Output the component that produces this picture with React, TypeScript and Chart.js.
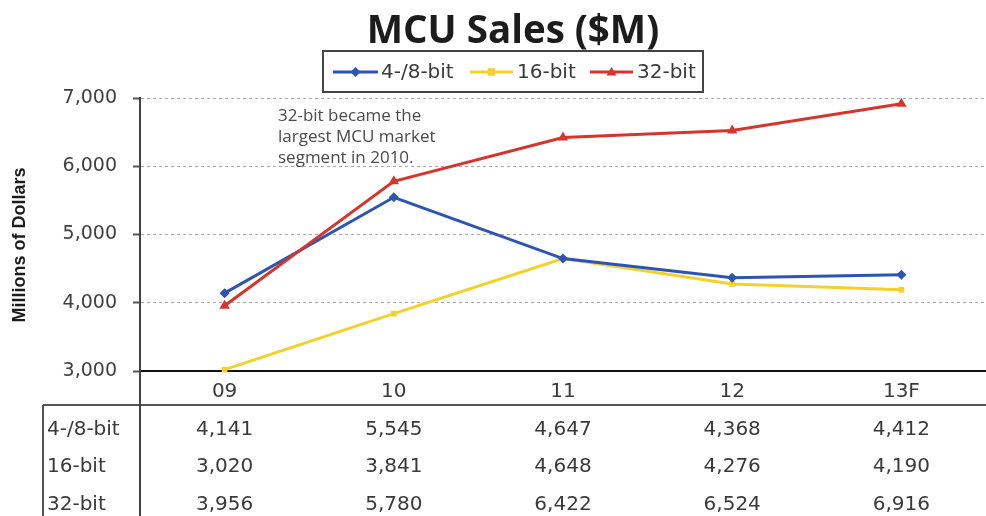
import React, { useEffect, useRef } from 'react';
import { Chart, registerables } from 'chart.js';

Chart.register(...registerables);

const categories = ['09', '10', '11', '12', '13F'];
const seriesNames = ['4-/8-bit', '16-bit', '32-bit'];
const bit4_8 = [4141, 5545, 4647, 4368, 4412];
const bit16 = [3020, 3841, 4648, 4276, 4190];
const bit32 = [3956, 5780, 6422, 6524, 6916];
const yTicks = [3000, 4000, 5000, 6000, 7000];
const titleText = 'MCU Sales ($M)';
const yTitleText = 'Millions of Dollars';
const annotationLines = ['32-bit became the', 'largest MCU market', 'segment in 2010.'];

const BLUE = '#2c55b3';
const YELLOW = '#f3d12b';
const RED = '#d6352c';
const seriesColors = [BLUE, YELLOW, RED];
const seriesStyles = ['rectRot', 'rect', 'triangle'];
const seriesValues = [bit4_8, bit16, bit32];

const fmt = (v: number) => v.toLocaleString('en-US');

function drawMarker(ctx: CanvasRenderingContext2D, style: string, x: number, y: number, r: number) {
  ctx.beginPath();
  if (style === 'rectRot') {
    ctx.moveTo(x, y - r);
    ctx.lineTo(x + r, y);
    ctx.lineTo(x, y + r);
    ctx.lineTo(x - r, y);
  } else if (style === 'rect') {
    ctx.rect(x - r * 0.75, y - r * 0.75, r * 1.5, r * 1.5);
  } else {
    ctx.moveTo(x, y - r);
    ctx.lineTo(x + r, y + r * 0.7);
    ctx.lineTo(x - r, y + r * 0.7);
  }
  ctx.closePath();
  ctx.fill();
}

const decor = {
  id: 'decor',
  afterDraw(chart: any) {
    const { ctx, chartArea, scales } = chart;
    const xs = scales.x;
    ctx.save();

    // Title
    ctx.fillStyle = '#1c1c1c';
    ctx.font = 'bold 38.5px "Open Sans"';
    ctx.textAlign = 'center';
    ctx.textBaseline = 'alphabetic';
    ctx.fillText(titleText, 513, 43);

    // Legend box
    ctx.strokeStyle = '#444';
    ctx.lineWidth = 2;
    ctx.strokeRect(323, 51, 380, 41);
    const legendItems = [
      { x0: 333, x1: 378, tx: 381 },
      { x0: 470, x1: 513, tx: 517 },
      { x0: 590, x1: 633, tx: 637 },
    ];
    ctx.font = '20px "DejaVu Sans"';
    ctx.textAlign = 'left';
    ctx.textBaseline = 'middle';
    legendItems.forEach((it, i) => {
      ctx.strokeStyle = seriesColors[i];
      ctx.fillStyle = seriesColors[i];
      ctx.lineWidth = 3;
      ctx.beginPath();
      ctx.moveTo(it.x0, 72);
      ctx.lineTo(it.x1, 72);
      ctx.stroke();
      drawMarker(ctx, seriesStyles[i], (it.x0 + it.x1) / 2, 72, 5);
      ctx.fillStyle = '#3a3a3a';
      ctx.fillText(seriesNames[i], it.tx, 73);
    });

    // Annotation
    ctx.fillStyle = '#4a4a4a';
    ctx.font = '17px "Open Sans"';
    ctx.textAlign = 'left';
    ctx.textBaseline = 'middle';
    annotationLines.forEach((l, i) => ctx.fillText(l, 278, 116 + i * 21));

    // Y-axis title
    ctx.save();
    ctx.translate(20, 245);
    ctx.rotate(-Math.PI / 2);
    ctx.fillStyle = '#1c1c1c';
    ctx.font = 'bold 18px "Liberation Sans"';
    ctx.textAlign = 'center';
    ctx.textBaseline = 'middle';
    ctx.fillText(yTitleText, 0, 0);
    ctx.restore();

    // Data table
    const tableTop = 405;
    const bottom = chart.height;
    ctx.strokeStyle = '#555';
    ctx.lineWidth = 2;
    ctx.beginPath();
    ctx.moveTo(43, tableTop);
    ctx.lineTo(chart.width, tableTop);
    ctx.moveTo(43, tableTop);
    ctx.lineTo(43, bottom);
    ctx.stroke();
    ctx.strokeStyle = '#444';
    ctx.beginPath();
    ctx.moveTo(chartArea.left, chartArea.bottom);
    ctx.lineTo(chartArea.left, bottom);
    ctx.stroke();

    const rowY = [430, 467, 505];
    ctx.font = '20px "DejaVu Sans"';
    ctx.fillStyle = '#3a3a3a';
    ctx.textBaseline = 'middle';
    seriesNames.forEach((name, r) => {
      ctx.textAlign = 'left';
      ctx.fillText(name, 47, rowY[r]);
      ctx.textAlign = 'center';
      seriesValues[r].forEach((v, c) => {
        ctx.fillText(fmt(v), xs.getPixelForValue(c), rowY[r]);
      });
    });

    ctx.restore();
  },
};

export default function App() {
  const ref = useRef<HTMLCanvasElement>(null);
  useEffect(() => {
    if (!ref.current) return;
    const chart = new Chart(ref.current, {
      type: 'line',
      data: {
        labels: categories,
        datasets: seriesNames.map((name, i) => ({
          label: name,
          data: seriesValues[i],
          borderColor: seriesColors[i],
          backgroundColor: seriesColors[i],
          borderWidth: 3,
          pointStyle: seriesStyles[i] as any,
          pointRadius: i === 1 ? 4 : i === 0 ? 5 : 6,
          pointBorderWidth: 0,
          tension: 0,
          clip: false as any,
          order: i === 2 ? 0 : i === 0 ? 1 : 2,
        })),
      },
      options: {
        responsive: false,
        animation: false,
        events: [],
        layout: { padding: { top: 98, left: 0, right: 0, bottom: 0 }, autoPadding: false },
        plugins: { legend: { display: false }, title: { display: false }, tooltip: { enabled: false } },
        scales: {
          x: {
            offset: true,
            grid: { display: false, drawTicks: false },
            border: { display: true, color: '#111', width: 2 },
            ticks: { font: { family: 'DejaVu Sans', size: 20 }, color: '#3a3a3a', padding: 9, maxRotation: 0 },
            afterFit: (s: any) => { s.height = 145; },
          },
          y: {
            min: 3000,
            max: 7000,
            afterBuildTicks: (s: any) => { s.ticks = yTicks.map((v) => ({ value: v })); },
            ticks: {
              font: { family: 'DejaVu Sans', size: 19 },
              color: '#404040',
              padding: 16,
              callback: (v: any) => fmt(Number(v)),
            },
            grid: {
              color: (c: any) => (c.tick && c.tick.value === 3000 ? 'rgba(0,0,0,0)' : '#a8a8a8'),
              lineWidth: 1,
              tickColor: '#555',
              tickLength: 7,
              tickWidth: 2,
              tickBorderDash: [],
            } as any,
            border: { display: true, color: '#444', width: 2, dash: [3, 3] },
            afterFit: (s: any) => { s.width = 140; },
          },
        },
      },
      plugins: [decor],
    });
    return () => chart.destroy();
  }, []);
  return (
    <div style={{ position: 'fixed', left: 0, top: 0, width: 986, height: 516, background: '#fff' }}>
      <canvas ref={ref} width={986} height={516} style={{ display: 'block' }} />
    </div>
  );
}
